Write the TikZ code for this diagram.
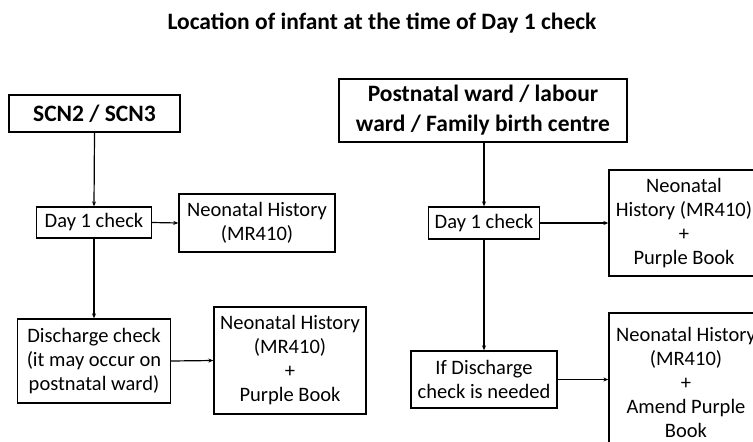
\documentclass[tikz,border=0pt]{standalone}
\usepackage{fontspec}
\setmainfont{Carlito}
\usetikzlibrary{arrows.meta}
\begin{document}
\begin{tikzpicture}[x=1pt,y=-1pt,
  box/.style={draw,line width=1.3pt,align=center,inner sep=0pt,font=\fontsize{20.5}{24}\selectfont},
  headbox/.style={draw,line width=2.4pt,align=center,inner sep=0pt,font=\bfseries\fontsize{23.5}{30}\selectfont},
  arr/.style={line width=1.2pt,-{Stealth[length=5pt,width=4pt]}}]
\useasboundingbox (0,0) rectangle (753,442);
\clip (0,0) rectangle (753,442);
\node[font=\bfseries\fontsize{23.5}{26}\selectfont] (title) at (382,23) {Location of infant at the time of Day 1 check};
% left column
\node[headbox,minimum width=171pt,minimum height=37pt] (scn) at (94.5,113.5) {SCN2 / SCN3};
\node[box,minimum width=115pt,minimum height=31pt] (d1L) at (94,222.5) {Day 1 check};
\node[box,minimum width=156pt,minimum height=58pt] (nhL1) at (257,223) {Neonatal History\\(MR410)};
\node[box,minimum width=153pt,minimum height=84pt] (dcL) at (94,361) {Discharge check\\(it may occur on\\postnatal ward)};
\node[box,minimum width=152pt,minimum height=107pt] (nhL2) at (290,360.5) {Neonatal History\\(MR410)\\+\\Purple Book};
% right column
\node[headbox,minimum width=288pt,minimum height=63pt] (pn) at (483,110.5) {Postnatal ward / labour\\ward / Family birth centre};
\node[box,minimum width=111pt,minimum height=32pt] (d1R) at (484,223) {Day 1 check};
\node[box,minimum width=150pt,minimum height=106pt] (nhR1) at (684,223) {Neonatal\\History (MR410)\\+\\Purple Book};
\node[box,minimum width=146pt,minimum height=57pt] (idc) at (484,379.5) {If Discharge\\check is needed};
\node[box,minimum width=154pt,minimum height=138pt] (nhR2) at (686,382) {Neonatal History\\(MR410)\\+\\Amend Purple\\Book};
% connectors
\draw[arr] (scn.south) -- (d1L.north);
\draw[arr] (d1L.east) -- (nhL1.west);
\draw[arr] (d1L.south) -- (dcL.north);
\draw[arr] (dcL.east) -- (nhL2.west);
\draw[arr] (pn.south -| d1R.north) -- (d1R.north);
\draw[arr] (d1R.east) -- (nhR1.west);
\draw[arr] (d1R.south) -- (idc.north);
\draw[arr] (idc.east) -- (idc.east -| nhR2.west);
\end{tikzpicture}
\end{document}
